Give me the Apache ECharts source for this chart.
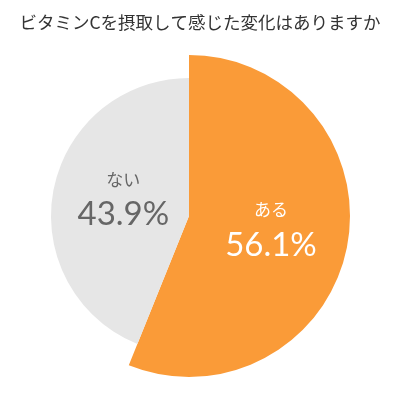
<!DOCTYPE html>
<html>
<head>
<meta charset="utf-8">
<script src="https://cdn.jsdelivr.net/npm/echarts@6/dist/echarts.min.js"></script>
<style>
  html, body { margin: 0; padding: 0; background: #fff; }
  #chart { width: 400px; height: 400px; }
</style>
</head>
<body>
<div id="chart"></div>
<script>
// 回答データ
const titleText = 'ビタミンCを摂取して感じた変化はありますか'
const categories = ['ある', 'ない']
const values = [56.1, 43.9]
const colors = ['#fa9b38', '#e6e6e6']
const labelColors = ['#ffffff', '#666666']
const radii = [161, 138]
const labelOffsets = [[0, -4], [5, -5]]

const chart = echarts.init(document.getElementById('chart'))

// 半径の違う扇形を出すため、1系列につき1つだけ表示する
const series = categories.map((name, i) => ({
  type: 'pie',
  center: [189, 216],
  radius: [0, radii[i]],
  startAngle: 90,
  clockwise: true,
  silent: true,
  animation: false,
  emphasis: { disabled: true },
  labelLine: { show: false },
  data: categories.map((n, j) => ({
    name: n,
    value: values[j],
    itemStyle: { color: j === i ? colors[j] : 'rgba(0,0,0,0)' },
    label: {
      show: j === i,
      position: 'inside',
      offset: labelOffsets[j],
      formatter: (p) => '{a|' + p.name + '}\n{b|' + p.value.toFixed(1) + '%}',
      rich: {
        a: { fontSize: 17, color: labelColors[j], fontFamily: 'Noto Sans CJK JP', lineHeight: 34 },
        b: { fontSize: 33, color: labelColors[j], fontFamily: 'Lato', lineHeight: 36 }
      }
    }
  }))
}))

chart.setOption({
  backgroundColor: '#ffffff',
  title: {
    text: titleText,
    left: 'center',
    top: 9,
    textStyle: {
      fontSize: 17.5,
      fontWeight: 'normal',
      color: '#333333',
      fontFamily: 'Noto Sans CJK JP'
    }
  },
  series
})
</script>
</body>
</html>
